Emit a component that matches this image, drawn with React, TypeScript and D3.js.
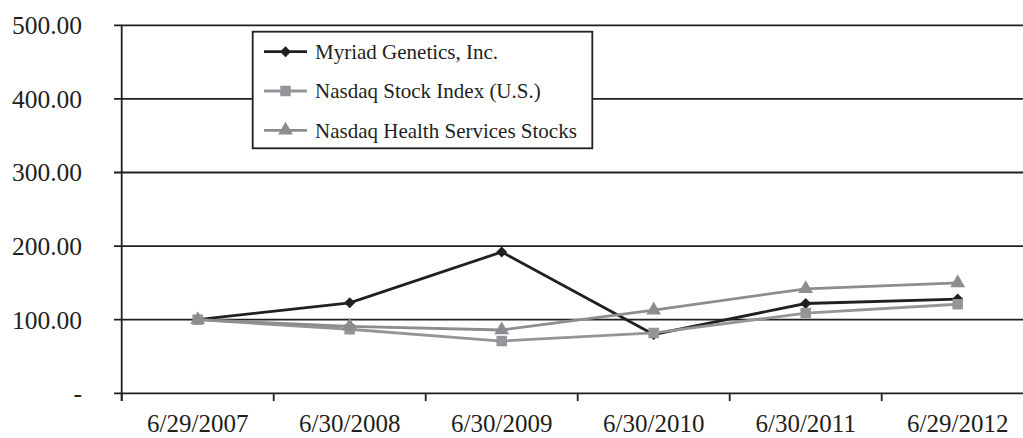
import React, { useRef, useEffect } from 'react';
import * as d3 from 'd3';

const dates = ['6/29/2007', '6/30/2008', '6/30/2009', '6/30/2010', '6/30/2011', '6/29/2012'];
const myriad = [100, 123, 192, 80, 122, 128];
const nasdaq = [100, 87, 71, 82, 109, 121];
const health = [100, 91, 86, 113, 142, 150];
const yTicks = [0, 100, 200, 300, 400, 500];

const App = () => {
    const svgRef = useRef(null);

    useEffect(() => {
        const svgWidth = 1023;
        const svgHeight = 438;
        const dark = '#231f20';

        const svg = d3.select(svgRef.current)
            .attr('width', svgWidth)
            .attr('height', svgHeight)
            .style('position', 'absolute')
            .style('left', 0)
            .style('top', 0)
            .style('font-family', '"Liberation Serif", "Times New Roman", serif');

        svg.selectAll('*').remove();

        const xScale = d3.scaleBand().domain(dates).range([121.7, 1033.7]);
        const yScale = d3.scaleLinear().domain([0, 500]).range([393.3, 25.3]);
        const cx = (i) => xScale(dates[i]) + xScale.bandwidth() / 2;

        // horizontal gridlines
        svg.append('g')
            .selectAll('line')
            .data(yTicks)
            .enter()
            .append('line')
            .attr('x1', 114)
            .attr('x2', svgWidth)
            .attr('y1', (d) => yScale(d))
            .attr('y2', (d) => yScale(d))
            .attr('stroke', dark)
            .attr('stroke-width', 1.8);

        // y axis line
        svg.append('line')
            .attr('x1', 121.7).attr('x2', 121.7)
            .attr('y1', yScale(500)).attr('y2', 401)
            .attr('stroke', dark).attr('stroke-width', 1.8);

        // x ticks at category boundaries
        const bounds = dates.map((d) => xScale(d)).concat([xScale(dates[5]) + xScale.bandwidth()]);
        svg.append('g')
            .selectAll('line')
            .data(bounds)
            .enter()
            .append('line')
            .attr('x1', (d) => d).attr('x2', (d) => d)
            .attr('y1', yScale(0)).attr('y2', 401)
            .attr('stroke', dark).attr('stroke-width', 1.8);

        // y labels
        svg.append('g')
            .selectAll('text')
            .data(yTicks)
            .enter()
            .append('text')
            .attr('x', 82)
            .attr('y', (d) => yScale(d))
            .attr('dy', '0.35em')
            .attr('text-anchor', 'end')
            .attr('font-size', 25.5)
            .attr('fill', dark)
            .text((d) => (d === 0 ? '-' : d3.format('.2f')(d)));

        // x labels
        svg.append('g')
            .selectAll('text')
            .data(dates)
            .enter()
            .append('text')
            .attr('x', (d, i) => cx(i))
            .attr('y', 431.5)
            .attr('text-anchor', 'middle')
            .attr('font-size', 25)
            .attr('fill', dark)
            .text((d) => d);

        const series = [
            { name: 'Myriad Genetics, Inc.', values: myriad, color: dark, marker: 'diamond', width: 2.8 },
            { name: 'Nasdaq Stock Index (U.S.)', values: nasdaq, color: '#939598', marker: 'square', width: 2.8 },
            { name: 'Nasdaq Health Services Stocks', values: health, color: '#8c8d90', marker: 'triangle', width: 2.8 },
        ];

        const symbolOf = (m) =>
            m === 'diamond' ? d3.symbol().type(d3.symbolSquare).size(60)
                : m === 'square' ? d3.symbol().type(d3.symbolSquare).size(110)
                    : d3.symbol().type(d3.symbolTriangle).size(95);
        const rot = (m) => (m === 'diamond' ? ' rotate(45)' : '');

        const line = d3.line()
            .x((d, i) => cx(i))
            .y((d) => yScale(d));

        series.forEach((s) => {
            svg.append('path')
                .datum(s.values)
                .attr('fill', 'none')
                .attr('stroke', s.color)
                .attr('stroke-width', s.width)
                .attr('d', line);

            svg.append('g')
                .selectAll('path')
                .data(s.values)
                .enter()
                .append('path')
                .attr('transform', (d, i) => `translate(${cx(i)},${yScale(d)})` + rot(s.marker))
                .attr('d', symbolOf(s.marker)())
                .attr('fill', s.color);
        });

        // legend
        const lg = svg.append('g');
        lg.append('rect')
            .attr('x', 252.7).attr('y', 31.7)
            .attr('width', 339.6).attr('height', 116.6)
            .attr('fill', 'white')
            .attr('stroke', dark)
            .attr('stroke-width', 1.8);

        series.forEach((s, i) => {
            const y = 51.7 + i * 39.3;
            lg.append('line')
                .attr('x1', 264).attr('x2', 307)
                .attr('y1', y).attr('y2', y)
                .attr('stroke', s.color)
                .attr('stroke-width', s.width);
            lg.append('path')
                .attr('transform', `translate(285.5,${y})` + rot(s.marker))
                .attr('d', symbolOf(s.marker)())
                .attr('fill', s.color);
            lg.append('text')
                .attr('x', 315)
                .attr('y', y)
                .attr('dy', '0.35em')
                .attr('font-size', 21)
                .attr('fill', dark)
                .text(s.name);
        });
    }, []);

    return (
        <div>
            <svg ref={svgRef} />
        </div>
    );
};

export default App;
